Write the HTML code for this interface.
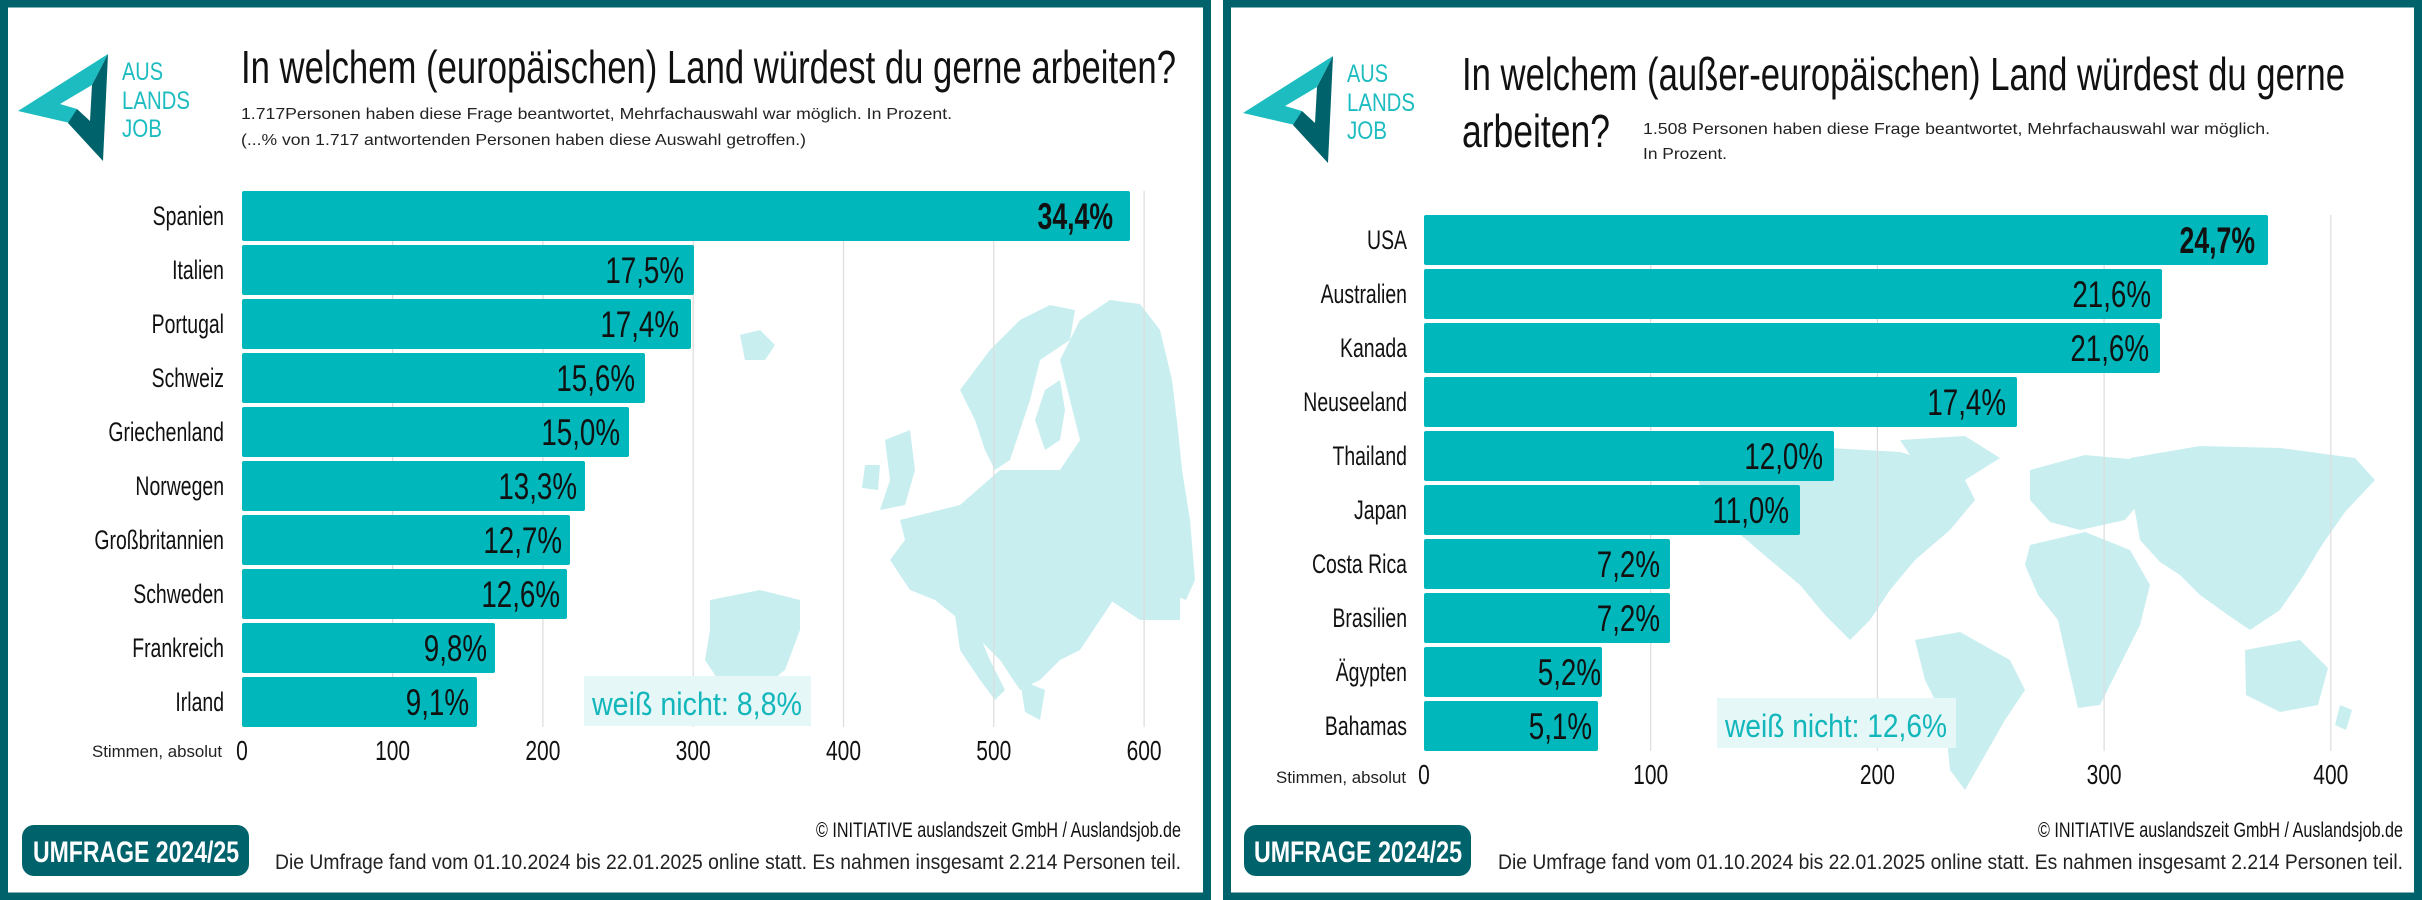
<!DOCTYPE html>
<html><head><meta charset="utf-8"><style>
html,body{margin:0;padding:0;background:#fff;}
svg{display:block;}
text{font-family:"Liberation Sans",sans-serif;}
</style></head><body>
<svg width="2422" height="900" viewBox="0 0 2422 900" xmlns="http://www.w3.org/2000/svg">
<rect width="2422" height="900" fill="#fff"/>
<rect x="4" y="3.5" width="1203" height="893" fill="#fff" stroke="#00636b" stroke-width="8"/>
<rect x="1227" y="3.5" width="1191" height="893" fill="#fff" stroke="#00636b" stroke-width="8"/>

<!-- ================= LEFT PANEL ================= -->
<g id="logoL">
<polygon points="108,54 18,111 70,123 77,109 60,104 92,85" fill="#1cbcc0"/>
<polygon points="108,54 92,85 90,121 77,109 68,123 103,161" fill="#00636b"/>
<text x="122" y="80" font-size="25" fill="#1cbcc0" textLength="41" lengthAdjust="spacingAndGlyphs">AUS</text>
<text x="122" y="109" font-size="25" fill="#1cbcc0" textLength="68" lengthAdjust="spacingAndGlyphs">LANDS</text>
<text x="122" y="137" font-size="25" fill="#1cbcc0" textLength="40" lengthAdjust="spacingAndGlyphs">JOB</text>
</g>
<text x="241" y="83" font-size="46" fill="#111" textLength="935" lengthAdjust="spacingAndGlyphs">In welchem (europäischen) Land würdest du gerne arbeiten?</text>
<text x="241" y="119" font-size="16" fill="#222" textLength="711" lengthAdjust="spacingAndGlyphs">1.717Personen haben diese Frage beantwortet, Mehrfachauswahl war möglich. In Prozent.</text>
<text x="241" y="145" font-size="16" fill="#222" textLength="565" lengthAdjust="spacingAndGlyphs">(...% von 1.717 antwortenden Personen haben diese Auswahl getroffen.)</text>

<g fill="#c9eef0">
<path d="M1080,320 L1110,300 L1140,304 L1160,330 L1172,380 L1178,430 L1182,470 L1190,520 L1195,580 L1186,600 L1160,590 L1130,600 L1100,590 L1080,560 L1060,540 L1040,520 L1060,470 L1080,440 L1070,400 L1060,360 Z"/>
<path d="M960,390 L990,350 L1020,320 L1050,305 L1075,310 L1070,340 L1040,360 L1030,400 L1020,430 L1010,460 L995,470 L985,450 L975,420 Z"/>
<path d="M1035,420 L1045,390 L1060,380 L1065,410 L1060,440 L1045,450 Z"/>
<path d="M740,335 L760,330 L775,345 L765,360 L745,360 Z"/>
<path d="M885,440 L910,430 L915,470 L905,505 L880,510 L890,480 Z"/>
<path d="M865,465 L880,465 L878,490 L862,488 Z"/>
<path d="M900,520 L960,505 L1000,470 L1060,470 L1100,500 L1120,540 L1120,590 L1100,620 L1080,650 L1060,660 L1040,680 L1020,690 L1000,660 L980,640 L960,620 L935,600 L910,590 L890,560 L905,540 Z"/>
<path d="M710,600 L760,590 L800,600 L800,630 L785,670 L760,690 L725,690 L705,660 L710,630 Z"/>
<path d="M955,615 L975,625 L990,660 L1005,690 L995,700 L980,680 L960,650 Z"/>
<path d="M1020,680 L1045,690 L1040,720 L1025,712 Z"/>
<path d="M1120,560 L1180,580 L1180,620 L1140,620 L1110,600 Z"/>
</g>

<g stroke="#dcdcdc" stroke-width="1.2">
<line x1="392.6" y1="191" x2="392.6" y2="727"/>
<line x1="542.9" y1="191" x2="542.9" y2="727"/>
<line x1="693.2" y1="191" x2="693.2" y2="727"/>
<line x1="843.5" y1="191" x2="843.5" y2="727"/>
<line x1="993.8" y1="191" x2="993.8" y2="727"/>
<line x1="1144.1" y1="191" x2="1144.1" y2="727"/>
</g>

<g fill="#00b8bc">
<rect x="242" y="191" width="888" height="50" rx="2"/>
<rect x="242" y="245" width="452" height="50" rx="2"/>
<rect x="242" y="299" width="449" height="50" rx="2"/>
<rect x="242" y="353" width="403" height="50" rx="2"/>
<rect x="242" y="407" width="387" height="50" rx="2"/>
<rect x="242" y="461" width="343" height="50" rx="2"/>
<rect x="242" y="515" width="328" height="50" rx="2"/>
<rect x="242" y="569" width="325" height="50" rx="2"/>
<rect x="242" y="623" width="253" height="50" rx="2"/>
<rect x="242" y="677" width="235" height="50" rx="2"/>
</g>
<g transform="translate(224,0) scale(0.72,1)" font-size="27" fill="#111" text-anchor="end">
<text x="0" y="225">Spanien</text>
<text x="0" y="279">Italien</text>
<text x="0" y="333">Portugal</text>
<text x="0" y="387">Schweiz</text>
<text x="0" y="441">Griechenland</text>
<text x="0" y="495">Norwegen</text>
<text x="0" y="549">Großbritannien</text>
<text x="0" y="603">Schweden</text>
<text x="0" y="657">Frankreich</text>
<text x="0" y="711">Irland</text>
</g>
<g font-size="37" fill="#111" text-anchor="end">
<text transform="translate(1113,229) scale(0.72,1)" font-weight="bold">34,4%</text>
<text transform="translate(684,283) scale(0.75,1)">17,5%</text>
<text transform="translate(679,337) scale(0.75,1)">17,4%</text>
<text transform="translate(635,391) scale(0.75,1)">15,6%</text>
<text transform="translate(620,445) scale(0.75,1)">15,0%</text>
<text transform="translate(577,499) scale(0.75,1)">13,3%</text>
<text transform="translate(562,553) scale(0.75,1)">12,7%</text>
<text transform="translate(560,607) scale(0.75,1)">12,6%</text>
<text transform="translate(487,661) scale(0.75,1)">9,8%</text>
<text transform="translate(469,715) scale(0.75,1)">9,1%</text>
</g>
<rect x="584" y="676" width="227" height="50" fill="#e6f7f8"/>
<text x="592" y="715" font-size="32" fill="#13b7bb" textLength="210" lengthAdjust="spacingAndGlyphs">weiß nicht: 8,8%</text>
<text x="222" y="757" font-size="17" fill="#222" text-anchor="end" textLength="130" lengthAdjust="spacingAndGlyphs">Stimmen, absolut</text>
<g font-size="28" fill="#111" text-anchor="middle">
<text transform="translate(242,760) scale(0.75,1)">0</text>
<text transform="translate(392.6,760) scale(0.75,1)">100</text>
<text transform="translate(542.9,760) scale(0.75,1)">200</text>
<text transform="translate(693.2,760) scale(0.75,1)">300</text>
<text transform="translate(843.5,760) scale(0.75,1)">400</text>
<text transform="translate(993.8,760) scale(0.75,1)">500</text>
<text transform="translate(1144.1,760) scale(0.75,1)">600</text>
</g>
<rect x="22" y="825" width="227" height="51" rx="12" fill="#00636b"/>
<text x="33" y="862" font-size="30" font-weight="bold" fill="#fff" textLength="206" lengthAdjust="spacingAndGlyphs">UMFRAGE 2024/25</text>
<text x="816" y="837" font-size="21" fill="#111" textLength="365" lengthAdjust="spacingAndGlyphs">© INITIATIVE auslandszeit GmbH / Auslandsjob.de</text>
<text x="275" y="869" font-size="21" fill="#222" textLength="906" lengthAdjust="spacingAndGlyphs">Die Umfrage fand vom 01.10.2024 bis 22.01.2025 online statt. Es nahmen insgesamt 2.214 Personen teil.</text>

<!-- ================= RIGHT PANEL ================= -->
<g transform="translate(1225,2)">
<polygon points="108,54 18,111 70,123 77,109 60,104 92,85" fill="#1cbcc0"/>
<polygon points="108,54 92,85 90,121 77,109 68,123 103,161" fill="#00636b"/>
<text x="122" y="80" font-size="25" fill="#1cbcc0" textLength="41" lengthAdjust="spacingAndGlyphs">AUS</text>
<text x="122" y="109" font-size="25" fill="#1cbcc0" textLength="68" lengthAdjust="spacingAndGlyphs">LANDS</text>
<text x="122" y="137" font-size="25" fill="#1cbcc0" textLength="40" lengthAdjust="spacingAndGlyphs">JOB</text>
</g>
<text x="1462" y="90" font-size="46" fill="#111" textLength="883" lengthAdjust="spacingAndGlyphs">In welchem (außer-europäischen) Land würdest du gerne</text>
<text x="1462" y="147" font-size="46" fill="#111" textLength="148" lengthAdjust="spacingAndGlyphs">arbeiten?</text>
<text x="1643" y="134" font-size="16" fill="#222" textLength="627" lengthAdjust="spacingAndGlyphs">1.508 Personen haben diese Frage beantwortet, Mehrfachauswahl war möglich.</text>
<text x="1643" y="159" font-size="16" fill="#222" textLength="84" lengthAdjust="spacingAndGlyphs">In Prozent.</text>

<g fill="#c9eef0">
<path d="M1695,470 L1760,455 L1830,448 L1900,452 L1960,470 L1975,500 L1950,530 L1915,560 L1890,590 L1870,620 L1850,640 L1825,615 L1800,585 L1770,560 L1735,530 L1705,500 Z"/>
<path d="M1900,440 L1965,436 L2000,458 L1965,480 L1920,470 Z"/>
<path d="M1915,640 L1960,632 L2010,660 L2025,690 L2005,720 L1985,755 L1965,790 L1950,770 L1945,720 L1925,680 Z"/>
<path d="M2030,470 L2085,455 L2140,460 L2150,490 L2125,520 L2080,530 L2050,522 L2030,500 Z"/>
<path d="M2030,545 L2085,532 L2130,550 L2150,585 L2140,625 L2120,665 L2100,705 L2078,708 L2068,665 L2058,620 L2038,595 L2025,565 Z"/>
<path d="M2130,458 L2200,446 L2280,448 L2355,458 L2375,480 L2345,512 L2322,545 L2302,578 L2280,610 L2250,630 L2228,615 L2200,595 L2180,575 L2160,562 L2140,540 L2133,500 Z"/>
<path d="M2245,650 L2300,640 L2328,668 L2318,705 L2280,712 L2246,695 Z"/>
<path d="M2340,705 L2352,710 L2346,730 L2335,725 Z"/>
</g>

<g stroke="#dcdcdc" stroke-width="1.2">
<line x1="1650.7" y1="215" x2="1650.7" y2="751"/>
<line x1="1877.4" y1="215" x2="1877.4" y2="751"/>
<line x1="2104.1" y1="215" x2="2104.1" y2="751"/>
<line x1="2330.8" y1="215" x2="2330.8" y2="751"/>
</g>
<g fill="#00b8bc">
<rect x="1424" y="215" width="844" height="50" rx="2"/>
<rect x="1424" y="269" width="738" height="50" rx="2"/>
<rect x="1424" y="323" width="736" height="50" rx="2"/>
<rect x="1424" y="377" width="593" height="50" rx="2"/>
<rect x="1424" y="431" width="410" height="50" rx="2"/>
<rect x="1424" y="485" width="376" height="50" rx="2"/>
<rect x="1424" y="539" width="246" height="50" rx="2"/>
<rect x="1424" y="593" width="246" height="50" rx="2"/>
<rect x="1424" y="647" width="178" height="50" rx="2"/>
<rect x="1424" y="701" width="174" height="50" rx="2"/>
</g>
<g transform="translate(1407,0) scale(0.72,1)" font-size="27" fill="#111" text-anchor="end">
<text x="0" y="249">USA</text>
<text x="0" y="303">Australien</text>
<text x="0" y="357">Kanada</text>
<text x="0" y="411">Neuseeland</text>
<text x="0" y="465">Thailand</text>
<text x="0" y="519">Japan</text>
<text x="0" y="573">Costa Rica</text>
<text x="0" y="627">Brasilien</text>
<text x="0" y="681">Ägypten</text>
<text x="0" y="735">Bahamas</text>
</g>
<g font-size="37" fill="#111" text-anchor="end">
<text transform="translate(2255,253) scale(0.72,1)" font-weight="bold">24,7%</text>
<text transform="translate(2151,307) scale(0.75,1)">21,6%</text>
<text transform="translate(2149,361) scale(0.75,1)">21,6%</text>
<text transform="translate(2006,415) scale(0.75,1)">17,4%</text>
<text transform="translate(1823,469) scale(0.75,1)">12,0%</text>
<text transform="translate(1789,523) scale(0.75,1)">11,0%</text>
<text transform="translate(1660,577) scale(0.75,1)">7,2%</text>
<text transform="translate(1660,631) scale(0.75,1)">7,2%</text>
<text transform="translate(1601,685) scale(0.75,1)">5,2%</text>
<text transform="translate(1592,739) scale(0.75,1)">5,1%</text>
</g>
<rect x="1717" y="698" width="239" height="50" fill="#e6f7f8"/>
<text x="1725" y="737" font-size="32" fill="#13b7bb" textLength="222" lengthAdjust="spacingAndGlyphs">weiß nicht: 12,6%</text>
<text x="1406" y="783" font-size="17" fill="#222" text-anchor="end" textLength="130" lengthAdjust="spacingAndGlyphs">Stimmen, absolut</text>
<g font-size="28" fill="#111" text-anchor="middle">
<text transform="translate(1424,784) scale(0.75,1)">0</text>
<text transform="translate(1650.7,784) scale(0.75,1)">100</text>
<text transform="translate(1877.4,784) scale(0.75,1)">200</text>
<text transform="translate(2104.1,784) scale(0.75,1)">300</text>
<text transform="translate(2330.8,784) scale(0.75,1)">400</text>
</g>
<rect x="1244" y="825" width="227" height="51" rx="12" fill="#00636b"/>
<text x="1254" y="862" font-size="30" font-weight="bold" fill="#fff" textLength="208" lengthAdjust="spacingAndGlyphs">UMFRAGE 2024/25</text>
<text x="2038" y="837" font-size="21" fill="#111" textLength="365" lengthAdjust="spacingAndGlyphs">© INITIATIVE auslandszeit GmbH / Auslandsjob.de</text>
<text x="1498" y="869" font-size="21" fill="#222" textLength="905" lengthAdjust="spacingAndGlyphs">Die Umfrage fand vom 01.10.2024 bis 22.01.2025 online statt. Es nahmen insgesamt 2.214 Personen teil.</text>
</svg>
</body></html>
